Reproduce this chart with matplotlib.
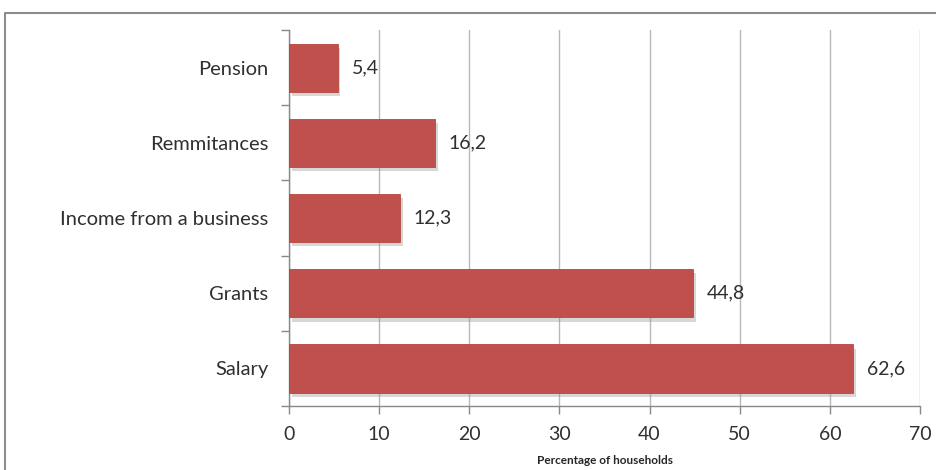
import matplotlib.pyplot as plt
import matplotlib.patheffects as pe
from matplotlib.lines import Line2D
import numpy as np

plt.rcParams['font.family'] = ['Lato', 'DejaVu Sans']

# Sources of household income
categories = ["Salary", "Grants", "Income from a business", "Remmitances", "Pension"]
values = [62.6, 44.8, 12.3, 16.2, 5.4]
value_labels = ["62,6", "44,8", "12,3", "16,2", "5,4"]
xticks = [0, 10, 20, 30, 40, 50, 60, 70]

fig = plt.figure(figsize=(9.36, 4.70), dpi=100)
ax = fig.add_axes([0.3088, 0.136, 0.6741, 0.800])

y = np.arange(len(categories))
shadow = [pe.SimplePatchShadow(offset=(2, -3), shadow_rgbFace='#8f8f8f', alpha=0.35), pe.Normal()]
bars = ax.barh(y, values, height=0.64, color='#C0504D', edgecolor='#B8473F', linewidth=0.6,
               zorder=3, path_effects=shadow)

for yi, v, lab in zip(y, values, value_labels):
    ax.annotate(lab, (v, yi), xytext=(10, 0), textcoords='offset points',
                va='center', ha='left', fontsize=14, color='#303030')

ax.set_xlim(0, 70)
ax.set_ylim(-0.5, len(categories) - 0.5)
ax.set_xticks(xticks)
ax.set_xticklabels([str(t) for t in xticks], fontsize=14, color='#303030')
ax.tick_params(axis='x', length=6, width=1, color='#888888', pad=8)

# category labels sit between boundary ticks
ax.set_yticks(y)
ax.set_yticklabels(categories, fontsize=14.5, color='#303030')
ax.tick_params(axis='y', length=0, pad=15)
ax.set_yticks(np.arange(-0.5, len(categories), 1), minor=True)
ax.tick_params(axis='y', which='minor', length=6, width=1, color='#888888')

ax.grid(axis='x', color='#b8b8b8', linewidth=1, zorder=0)
for s in ['top', 'right']:
    ax.spines[s].set_visible(False)
for s in ['left', 'bottom']:
    ax.spines[s].set_color('#888888')
    ax.spines[s].set_linewidth(1)

ax.set_xlabel("Percentage of households", fontsize=8.5, fontweight='bold', color='#262626', labelpad=9)

# frame around the chart, cut off at right and bottom
fig.add_artist(Line2D([5 / 936, 5 / 936, 1.0], [0.0, 1 - 13 / 470, 1 - 13 / 470],
                      transform=fig.transFigure, color='#8c8c8c', linewidth=1.5))

fig.savefig('out.png', dpi=100)
